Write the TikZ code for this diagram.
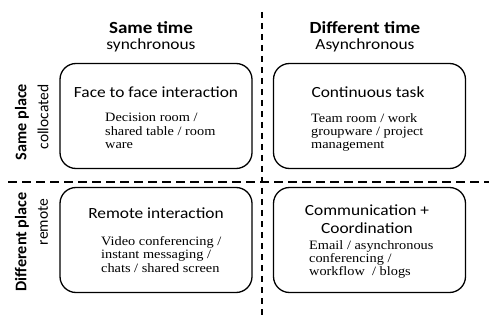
\documentclass[tikz,border=0pt]{standalone}
\usepackage{fontspec}
\setmainfont{Liberation Serif}
\newfontfamily\headfont[FakeStretch=1.12]{Carlito}
\newfontfamily\sidefont{Carlito}
\newfontfamily\bodyfont[FakeStretch=1.12]{Liberation Serif}
\usetikzlibrary{shapes,arrows}

\begin{document}
\begin{tikzpicture}[x=1pt,y=-1pt]
						\tikzset{align=center,inner sep=0pt}
						
						\tikzset{quad/.style = {shape=rectangle,draw,line width=1.3pt,rounded corners=16pt,minimum width=192pt,minimum height=105pt}}
						
						\tikzset{head/.style = {font=\headfont\fontsize{17}{20}\selectfont\bfseries}}
						
						\tikzset{sub/.style = {font=\headfont\fontsize{15.5}{18}\selectfont}}
						
						\tikzset{sidehead/.style = {rotate=90,font=\sidefont\fontsize{16.2}{20}\selectfont\bfseries}}
						
						\tikzset{sidesub/.style = {rotate=90,font=\sidefont\fontsize{15.5}{18}\selectfont}}
						
						\tikzset{title/.style = {font=\headfont\fontsize{15.5}{18.5}\selectfont}}
						
						\tikzset{body/.style = {font=\bodyfont\fontsize{12.8}{13.4}\selectfont,align=left,anchor=north west}}
						
						\tikzset{divider/.style = {line width=1.6pt,dash pattern=on 6pt off 5pt}}
						
						\useasboundingbox (0,0) rectangle (489,320);
						
						% quadrants
						
						\node[quad] (ff) at (156,116) {};
						
						\node[quad] (ct) at (369.5,116) {};
						
						\node[quad] (ri) at (156,240) {};
						
						\node[quad] (cc) at (369.5,240) {};
						
						% column and row labels
						
						\node[head] (st) at (151,28) {Same time};
						\node[sub] (sy) at (151,45) {synchronous};
						
						\node[head] (dt) at (365,28) {Different time};
						\node[sub] (as) at (365,45) {Asynchronous};
						
						\node[sidehead] (sp) at (22,122) {Same place};
						\node[sidesub] (co) at (43,117) {collocated};
						
						\node[sidehead] (dp) at (22,242) {Different place};
						\node[sidesub] (re) at (43,222) {remote};
						
						% box texts
						
						\node[title] (fft) at (156,92) {Face to face interaction};
						\node[body] (ffb) at (105,113) {Decision room /\\shared table / room\\ware};
						
						\node[title] (ctt) at (368,92) {Continuous task};
						\node[body] (ctb) at (311,113) {Team room / work\\groupware / project\\management};
						
						\node[title] (rit) at (156,213) {Remote interaction};
						\node[body] (rib) at (101,236) {Video conferencing /\\instant messaging /\\chats / shared screen};
						
						\node[title] (cct) at (367,219) {Communication +\\Coordination};
						\node[body] (ccb) at (309,240) {Email / asynchronous\\conferencing /\\workflow~ / blogs};
						
						% dividers
						
						\coordinate (vtop) at (262,12);
						\coordinate (vbot) at (262,320);
						\coordinate (hleft) at (8,182);
						\coordinate (hright) at (489,182);
						
						\draw[divider] (vtop) -- (vbot);
						\draw[divider,dash pattern=on 9pt off 5pt] (hleft) -- (hright);
\end{tikzpicture}
\end{document}
